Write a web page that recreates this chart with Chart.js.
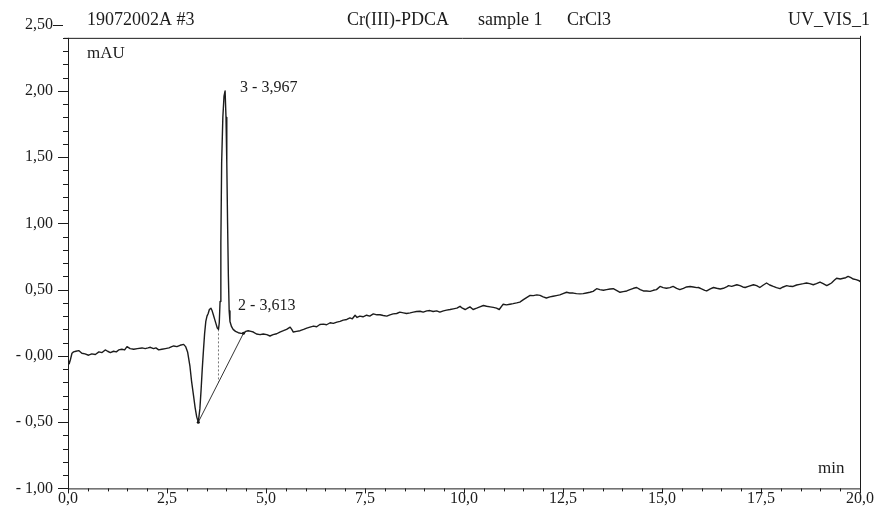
<!DOCTYPE html>
<html>
<head>
<meta charset="utf-8">
<script src="https://cdn.jsdelivr.net/npm/chart.js@4.4.1/dist/chart.umd.min.js"></script>
<style>
  html, body { margin: 0; padding: 0; background: #fff; }
  canvas { display: block; }
</style>
</head>
<body>
<canvas id="chroma" width="880" height="513"></canvas>
<script>
// Chromatogramm 19072002A #3 – UV_VIS_1
var retentionTime = [
  0.00, 0.03, 0.06, 0.10, 0.14, 0.20, 0.27, 0.35, 0.43, 0.52, 0.60, 0.69, 0.78, 0.86, 0.94, 1.00,
  1.07, 1.15, 1.22, 1.28, 1.36, 1.43, 1.49, 1.57, 1.66, 1.75, 1.87, 1.95, 2.02, 2.08, 2.16, 2.22,
  2.29, 2.37, 2.46, 2.55, 2.62, 2.67, 2.75, 2.83, 2.92, 2.97, 3.02, 3.08, 3.12, 3.17, 3.21, 3.25,
  3.29, 3.33, 3.36, 3.39, 3.42, 3.45, 3.48, 3.51, 3.54, 3.57, 3.61, 3.64, 3.67, 3.71, 3.74, 3.77,
  3.80, 3.82, 3.84, 3.86, 3.88, 3.91, 3.94, 3.967, 3.99, 4.01, 4.03, 4.05, 4.07, 4.09, 4.13, 4.17,
  4.23, 4.30, 4.37, 4.43, 4.49, 4.55, 4.62, 4.68, 4.76, 4.85, 4.93, 5.02, 5.10, 5.18, 5.27, 5.35,
  5.44, 5.52, 5.61, 5.65, 5.69, 5.77, 5.86, 5.95, 6.03, 6.11, 6.20, 6.28, 6.36, 6.45, 6.53, 6.62,
  6.70, 6.79, 6.87, 6.95, 7.04, 7.12, 7.18, 7.25, 7.30, 7.37, 7.45, 7.54, 7.62, 7.71, 7.80, 7.88,
  7.96, 8.05, 8.13, 8.21, 8.30, 8.38, 8.47, 8.55, 8.64, 8.72, 8.80, 8.89, 8.97, 9.06, 9.14, 9.22,
  9.31, 9.39, 9.48, 9.56, 9.65, 9.73, 9.82, 9.90, 9.96, 10.03, 10.07, 10.15, 10.23, 10.32, 10.40, 10.49,
  10.57, 10.66, 10.74, 10.82, 10.89, 10.99, 11.07, 11.16, 11.24, 11.33, 11.41, 11.50, 11.58, 11.67, 11.75, 11.84,
  11.92, 12.00, 12.08, 12.17, 12.25, 12.33, 12.42, 12.50, 12.59, 12.67, 12.76, 12.84, 12.93, 13.01, 13.09, 13.18,
  13.26, 13.35, 13.43, 13.52, 13.60, 13.69, 13.77, 13.85, 13.94, 14.02, 14.11, 14.19, 14.28, 14.36, 14.45, 14.53,
  14.61, 14.70, 14.78, 14.86, 14.95, 15.03, 15.11, 15.20, 15.28, 15.37, 15.45, 15.54, 15.62, 15.71, 15.79, 15.88,
  15.92, 16.00, 16.08, 16.13, 16.22, 16.30, 16.38, 16.47, 16.55, 16.63, 16.68, 16.76, 16.89, 16.97, 17.04, 17.10,
  17.18, 17.31, 17.39, 17.47, 17.56, 17.64, 17.72, 17.81, 17.89, 17.98, 18.06, 18.15, 18.23, 18.31, 18.40, 18.48,
  18.57, 18.65, 18.73, 18.82, 18.90, 18.99, 19.07, 19.16, 19.22, 19.28, 19.35, 19.41, 19.50, 19.58, 19.64, 19.70,
  19.77, 19.83, 19.90, 19.98, 20.00
];
var absorbance = [
  -0.02, -0.06, -0.03, 0.02, 0.03, 0.035, 0.04, 0.02, 0.015, 0.005, 0.015, 0.01, 0.03, 0.025, 0.045, 0.035,
  0.025, 0.035, 0.03, 0.045, 0.05, 0.045, 0.07, 0.055, 0.05, 0.055, 0.06, 0.055, 0.06, 0.065, 0.055, 0.06,
  0.045, 0.05, 0.055, 0.06, 0.07, 0.075, 0.07, 0.08, 0.087, 0.07, 0.03, -0.08, -0.19, -0.30, -0.39, -0.46,
  -0.50, -0.40, -0.26, -0.10, 0.04, 0.17, 0.26, 0.30, 0.32, 0.35, 0.36, 0.34, 0.31, 0.27, 0.24, 0.21,
  0.20, 0.25, 0.41, 0.85, 1.46, 1.80, 1.96, 2.00, 1.80, 1.46, 1.00, 0.60, 0.34, 0.26, 0.22, 0.20,
  0.185, 0.175, 0.17, 0.17, 0.185, 0.19, 0.185, 0.18, 0.165, 0.16, 0.165, 0.16, 0.15, 0.16, 0.167, 0.18,
  0.19, 0.20, 0.217, 0.20, 0.18, 0.185, 0.19, 0.20, 0.21, 0.217, 0.225, 0.22, 0.237, 0.24, 0.235, 0.25,
  0.245, 0.255, 0.26, 0.27, 0.275, 0.287, 0.28, 0.307, 0.29, 0.30, 0.295, 0.307, 0.30, 0.317, 0.31, 0.31,
  0.305, 0.30, 0.31, 0.317, 0.32, 0.33, 0.325, 0.32, 0.325, 0.33, 0.335, 0.337, 0.33, 0.34, 0.342, 0.335,
  0.34, 0.33, 0.34, 0.345, 0.35, 0.355, 0.36, 0.374, 0.36, 0.35, 0.356, 0.37, 0.35, 0.36, 0.37, 0.38,
  0.375, 0.37, 0.366, 0.36, 0.35, 0.39, 0.385, 0.39, 0.394, 0.40, 0.406, 0.424, 0.44, 0.457, 0.455, 0.46,
  0.457, 0.445, 0.437, 0.445, 0.45, 0.455, 0.46, 0.47, 0.48, 0.475, 0.474, 0.47, 0.468, 0.47, 0.475, 0.48,
  0.487, 0.507, 0.50, 0.495, 0.50, 0.505, 0.507, 0.495, 0.48, 0.485, 0.49, 0.50, 0.51, 0.516, 0.50, 0.49,
  0.49, 0.487, 0.495, 0.50, 0.524, 0.515, 0.51, 0.515, 0.524, 0.51, 0.50, 0.51, 0.52, 0.524, 0.52, 0.515,
  0.516, 0.505, 0.495, 0.49, 0.505, 0.516, 0.51, 0.505, 0.51, 0.52, 0.53, 0.525, 0.537, 0.53, 0.52, 0.516,
  0.525, 0.537, 0.53, 0.516, 0.535, 0.55, 0.535, 0.524, 0.515, 0.507, 0.52, 0.53, 0.525, 0.524, 0.535, 0.54,
  0.545, 0.55, 0.545, 0.537, 0.545, 0.557, 0.545, 0.53, 0.54, 0.55, 0.57, 0.586, 0.58, 0.586, 0.59, 0.60,
  0.59, 0.58, 0.575, 0.567, 0.56
];

// Integrationsbasislinie und Peak-Trennung
var baselineTime = [3.29, 4.43];
var baselineValue = [-0.50, 0.17];
var dropTime = [3.80, 3.80];
var dropValue = [0.20, -0.20];

// Peaks: Nummer, Retentionszeit, Höhe
var peakNumbers = [2, 3];
var peakTimes = [3.613, 3.967];
var peakHeights = [0.36, 2.00];

var xTicks = [0, 2.5, 5, 7.5, 10, 12.5, 15, 17.5, 20];
var yMin = -1.0, yMax = 2.5;

var SERIF = '"Liberation Serif", "Times New Roman", "DejaVu Serif", serif';
var INK = '#1c1c1c';

function toPoints(xs, ys) {
  return xs.map(function(x, i) { return { x: x, y: ys[i] }; });
}

function fmtComma(v, digits) {
  return Math.abs(v).toFixed(digits).replace('.', ',');
}

var framePlugin = {
  id: 'frame',
  afterDraw: function(chart) {
    var ctx = chart.ctx;
    var xs = chart.scales.x, ys = chart.scales.y;
    var left = xs.left, right = xs.right, bottom = ys.bottom;
    var top = ys.getPixelForValue(2.4);

    ctx.save();
    ctx.strokeStyle = INK;
    ctx.lineWidth = 1;

    // Rahmen
    ctx.beginPath();
    ctx.moveTo(left + 0.5, top);
    ctx.lineTo(left + 0.5, bottom + 0.5);
    ctx.lineTo(right + 0.5, bottom + 0.5);
    ctx.lineTo(right + 0.5, top - 2);
    ctx.moveTo(left - 4, top + 0.5);
    ctx.lineTo(right + 1, top + 0.5);
    ctx.stroke();

    // y-Ticks (Haupt 0.5, Neben 0.1)
    ctx.beginPath();
    for (var i = 0; i <= 35; i++) {
      var v = yMin + i * 0.1;
      var py = Math.round(ys.getPixelForValue(v)) + 0.5;
      var major = i % 5 === 0;
      var len = major ? 10 : 5;
      if (v > 2.45) {
        ctx.moveTo(left - 15, py);
        ctx.lineTo(left - 5, py);
      } else {
        ctx.moveTo(left - len, py);
        ctx.lineTo(left, py);
      }
    }
    // x-Ticks (Haupt 2.5, Neben 0.5)
    for (var j = 0; j <= 40; j++) {
      var t = j * 0.5;
      var px = Math.round(xs.getPixelForValue(t)) + 0.5;
      var lenX = j % 5 === 0 ? 5 : 3;
      ctx.moveTo(px, bottom);
      ctx.lineTo(px, bottom + lenX);
    }
    ctx.stroke();

    // Kopfzeile
    ctx.fillStyle = INK;
    ctx.textBaseline = 'alphabetic';
    ctx.font = '18px ' + SERIF;
    ctx.textAlign = 'left';
    ctx.fillText('19072002A #3', 87, 25);
    ctx.fillText('Cr(III)-PDCA', 347, 25);
    ctx.fillText('sample 1', 478, 25);
    ctx.fillText('CrCl3', 567, 25);
    ctx.textAlign = 'right';
    ctx.fillText('UV_VIS_1', 870, 25);

    ctx.font = '17px ' + SERIF;
    ctx.textAlign = 'left';
    ctx.fillText('mAU', 87, 58);
    ctx.fillText('min', 818, 473);

    // Peak-Beschriftungen
    ctx.font = '16px ' + SERIF;
    ctx.fillText(peakNumbers[1] + ' - ' + fmtComma(peakTimes[1], 3),
      xs.getPixelForValue(peakTimes[1]) + 15, ys.getPixelForValue(peakHeights[1]) + 1);
    ctx.fillText(peakNumbers[0] + ' - ' + fmtComma(peakTimes[0], 3),
      xs.getPixelForValue(peakTimes[0]) + 27, ys.getPixelForValue(peakHeights[0]) + 2);
    ctx.restore();
  }
};

new Chart(document.getElementById('chroma'), {
  type: 'line',
  data: {
    datasets: [{
      label: 'UV_VIS_1',
      data: toPoints(retentionTime, absorbance),
      borderColor: INK,
      borderWidth: 1.4,
      borderJoinStyle: 'round',
      pointRadius: 0,
      tension: 0,
      fill: false
    }, {
      label: 'Basislinie',
      data: toPoints(baselineTime, baselineValue),
      borderColor: '#333',
      borderWidth: 1,
      pointRadius: 1.5,
      pointBackgroundColor: '#111',
      pointBorderWidth: 0,
      fill: false
    }, {
      label: 'Trennung',
      data: toPoints(dropTime, dropValue),
      borderColor: '#777',
      borderWidth: 1,
      borderDash: [2, 2],
      pointRadius: 0,
      fill: false
    }]
  },
  options: {
    responsive: false,
    animation: false,
    events: [],
    layout: { padding: { top: 21, right: 20, left: 0, bottom: 0 } },
    plugins: {
      legend: { display: false },
      tooltip: { enabled: false }
    },
    scales: {
      x: {
        type: 'linear',
        min: 0,
        max: 20,
        afterFit: function(scale) { scale.height = 24; },
        afterBuildTicks: function(scale) {
          scale.ticks = xTicks.map(function(v) { return { value: v }; });
        },
        grid: { display: false, drawTicks: false },
        border: { display: false },
        ticks: {
          color: INK,
          padding: 1,
          maxRotation: 0,
          font: { family: SERIF, size: 16 },
          callback: function(v) { return fmtComma(v, 1); }
        }
      },
      y: {
        min: yMin,
        max: yMax,
        afterFit: function(scale) { scale.width = 68; },
        grid: { display: false, drawTicks: false },
        border: { display: false },
        ticks: {
          stepSize: 0.5,
          color: INK,
          padding: 15,
          font: { family: SERIF, size: 16 },
          callback: function(v) {
            var s = fmtComma(v, 2);
            return v <= 0 ? '- ' + s : s;
          }
        }
      }
    }
  },
  plugins: [framePlugin]
});
</script>
</body>
</html>
